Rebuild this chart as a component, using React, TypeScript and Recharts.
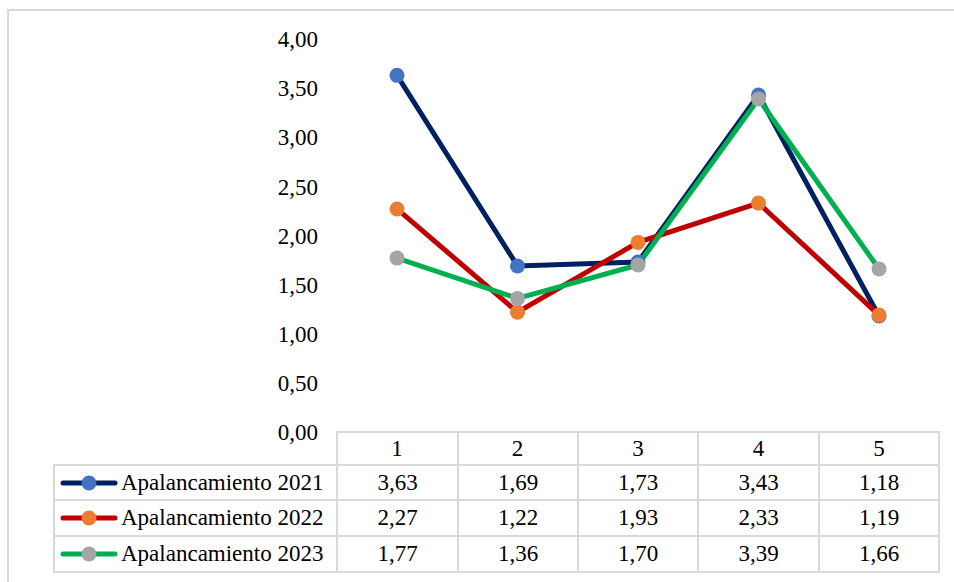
import React from "react"
import { LineChart, Line, XAxis, YAxis } from "recharts"

// data
const categories = ["1", "2", "3", "4", "5"]
const apalancamiento2021 = [3.63, 1.69, 1.73, 3.43, 1.18]
const apalancamiento2022 = [2.27, 1.22, 1.93, 2.33, 1.19]
const apalancamiento2023 = [1.77, 1.36, 1.7, 3.39, 1.66]
const yTicks = [0, 0.5, 1, 1.5, 2, 2.5, 3, 3.5, 4]

const series = [
    { key: "a2021", name: "Apalancamiento 2021", values: apalancamiento2021, stroke: "#002060", marker: "#4472C4" },
    { key: "a2022", name: "Apalancamiento 2022", values: apalancamiento2022, stroke: "#C00000", marker: "#ED7D31" },
    { key: "a2023", name: "Apalancamiento 2023", values: apalancamiento2023, stroke: "#00B050", marker: "#A5A5A5" },
]

const data = categories.map((c, i) => {
    const row: Record<string, string | number> = { category: c }
    series.forEach((s) => {
        row[s.key] = s.values[i]
    })
    return row
})

const FONT = "Liberation Serif, DejaVu Serif, serif"
const BORDER = "#d9d9d9"
const fmt = (v: number) => v.toFixed(2).replace(".", ",")

// table geometry
const colEdges = [337, 458, 578, 698, 819, 939]
const rowEdges = [432, 465, 500, 536, 572]
const legendLeft = 54

function Cell({ x0, x1, y0, y1, children, align = "center" }: any) {
    return (
        <div
            style={{
                position: "absolute",
                left: x0 - 1,
                top: y0 - 1,
                width: x1 - x0 + 2,
                height: y1 - y0 + 2,
                border: `2px solid ${BORDER}`,
                boxSizing: "border-box",
                display: "flex",
                alignItems: "center",
                justifyContent: align === "center" ? "center" : "flex-start",
                fontFamily: FONT,
                fontSize: 23,
                color: "#000",
                whiteSpace: "nowrap",
            }}
        >
            {children}
        </div>
    )
}

function LegendKey({ stroke, marker }: { stroke: string; marker: string }) {
    return (
        <svg width={58} height={16} style={{ marginLeft: 5, marginRight: 3 }}>
            <line x1={3} y1={8} x2={55} y2={8} stroke={stroke} strokeWidth={5} strokeLinecap="round" />
            <circle cx={29} cy={8} r={7.5} fill={marker} />
        </svg>
    )
}

export default function App() {
    return (
        <div style={{ position: "absolute", left: 0, top: 0, width: 954, height: 582, background: "#fff", overflow: "hidden", fontFamily: FONT }}>
            <div
                style={{
                    position: "absolute",
                    left: 7,
                    top: 9,
                    width: 980,
                    height: 620,
                    border: `2px solid ${BORDER}`,
                    boxSizing: "border-box",
                }}
            />
            <div style={{ position: "absolute", left: 0, top: 0 }}>
                <LineChart width={954} height={582} data={data} margin={{ top: 39, right: 15, left: 0, bottom: 117 }} style={{ fontFamily: FONT }}>
                    <XAxis
                        dataKey="category"
                        axisLine={false}
                        tickLine={false}
                        tickSize={0}
                        tickMargin={8}
                        height={33}
                        padding={{ left: 60, right: 60 }}
                        tick={{ fontSize: 23, fill: "#000", fontFamily: FONT }}
                        interval={0}
                    />
                    <YAxis
                        width={337}
                        domain={[0, 4]}
                        ticks={yTicks}
                        axisLine={false}
                        tickLine={false}
                        tickSize={0}
                        tickMargin={19}
                        tickFormatter={fmt}
                        tick={{ fontSize: 23, fill: "#000", fontFamily: FONT }}
                    />
                    {series.map((s) => (
                        <Line
                            key={s.key}
                            dataKey={s.key}
                            name={s.name}
                            type="linear"
                            stroke={s.stroke}
                            strokeWidth={5}
                            dot={{ r: 7.5, fill: s.marker, stroke: "none" }}
                            activeDot={false}
                            isAnimationActive={false}
                        />
                    ))}
                </LineChart>
            </div>
            {/* data table under the plot */}
            {categories.map((c, i) => (
                <Cell key={"h" + c} x0={colEdges[i]} x1={colEdges[i + 1]} y0={rowEdges[0]} y1={rowEdges[1]} />
            ))}
            {series.map((s, r) => (
                <React.Fragment key={s.key}>
                    <Cell x0={legendLeft} x1={colEdges[0]} y0={rowEdges[r + 1]} y1={rowEdges[r + 2]} align="left">
                        <LegendKey stroke={s.stroke} marker={s.marker} />
                        {s.name}
                    </Cell>
                    {s.values.map((v, i) => (
                        <Cell key={i} x0={colEdges[i]} x1={colEdges[i + 1]} y0={rowEdges[r + 1]} y1={rowEdges[r + 2]}>
                            {fmt(v)}
                        </Cell>
                    ))}
                </React.Fragment>
            ))}
        </div>
    )
}
